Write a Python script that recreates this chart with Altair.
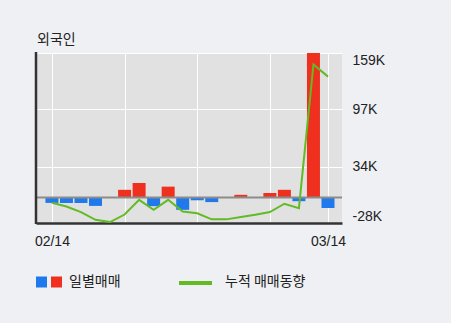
import altair as alt
import pandas as pd

dates = ["02/14", "02/15", "02/16", "02/17", "02/20", "02/21", "02/22", "02/23", "02/24", "02/27",
         "02/28", "03/02", "03/03", "03/06", "03/07", "03/08", "03/09", "03/10", "03/13", "03/14"]
daily = [-5.9, -6.0, -6.0, -9.2, 0.0, 8.5, 16.0, -9.5, 12.0, -13.5,
         -3.0, -5.0, 0.0, 3.0, 0.0, 5.0, 8.5, -4.0, 162.0, -11.5]
cumulative = [-5.8, -9.9, -16.0, -24.5, -27.0, -18.7, -2.5, -13.5, -2.5, -15.4,
              -17.3, -24.0, -24.0, -21.5, -18.9, -16.0, -6.8, -11.7, 146.5, 133.0]
y_ticks = [-28, 34, 97, 159]
x_grid = [0, 5, 10, 15, 19]
x_label_idx = [0, 19]

W, H = 306, 170
df = pd.DataFrame({"i": list(range(len(dates))), "date": dates, "daily": daily, "cum": cumulative})
df["sign"] = ["pos" if v > 0 else "neg" for v in daily]

label_expr = " : ".join(
    [f"datum.value == {k} ? '{dates[k]}'" for k in x_label_idx]
) + " : ''"

xs = alt.Scale(domain=[-0.752, 19.62], nice=False, zero=False)
ys = alt.Scale(domain=[y_ticks[0], y_ticks[-1]], nice=False, zero=False)

base = alt.Chart(df)

bars = base.transform_filter("datum.daily != 0").mark_bar(size=13, clip=True).encode(
    x=alt.X("i:Q", scale=xs, axis=alt.Axis(
        values=x_grid, labelExpr=label_expr, title=None, grid=True, gridColor="#ffffff",
        gridWidth=1, ticks=False, domainColor="#333333", domainWidth=2.5, labelPadding=11,
        labelFont="Liberation Sans", labelFontSize=14, labelColor="#222222", labelAngle=0)),
    y=alt.Y("daily:Q", scale=ys, axis=alt.Axis(
        orient="right", values=y_ticks, labelExpr="datum.value + 'K'", title=None, grid=True,
        gridColor="#ffffff", gridWidth=1, ticks=False, domain=False, labelPadding=10,
        labelFlush=True, labelFont="Liberation Sans", labelFontSize=14, labelColor="#222222")),
    y2=alt.datum(0),
    color=alt.Color("sign:N", scale=alt.Scale(domain=["pos", "neg"], range=["#f0301e", "#2079ec"]), legend=None),
)

zero = alt.Chart(pd.DataFrame({"z": [0]})).mark_rule(color="#8c8c8c", strokeWidth=2).encode(
    y=alt.datum(0), x=alt.value(0), x2=alt.value(W)
)

line = base.mark_line(color="#62bb24", strokeWidth=2, clip=True).encode(
    x=alt.X("i:Q", title=None), y=alt.Y("cum:Q", title=None)
)

left_axis = alt.Chart(pd.DataFrame({"a": [0]})).mark_rule(color="#333333", strokeWidth=2.5).encode(
    x=alt.value(0), y=alt.value(-1), y2=alt.value(H + 1)
)

title = alt.Chart(pd.DataFrame({"t": ["외국인"]})).mark_text(
    align="left", baseline="middle", font="Noto Sans CJK KR", fontSize=14, color="#222222"
).encode(x=alt.value(1), y=alt.value(-13), text="t:N")

leg_blue = alt.Chart(pd.DataFrame({"a": [0]})).mark_square(
    size=121, opacity=1, filled=True, color="#2079ec"
).encode(x=alt.value(5.5), y=alt.value(229))

leg_red = alt.Chart(pd.DataFrame({"a": [0]})).mark_square(
    size=121, opacity=1, filled=True, color="#f0301e"
).encode(x=alt.value(20.5), y=alt.value(229))

leg_line = alt.Chart(pd.DataFrame({"a": [0]})).mark_rule(color="#62bb24", strokeWidth=4).encode(
    x=alt.value(143), x2=alt.value(176), y=alt.value(230)
)

leg_text1 = alt.Chart(pd.DataFrame({"t": ["일별매매"]})).mark_text(
    align="left", baseline="middle", font="Noto Sans CJK KR", fontSize=14, color="#222222"
).encode(x=alt.value(33), y=alt.value(229), text="t:N")

leg_text2 = alt.Chart(pd.DataFrame({"t": ["누적 매매동향"]})).mark_text(
    align="left", baseline="middle", font="Noto Sans CJK KR", fontSize=14, color="#222222"
).encode(x=alt.value(189), y=alt.value(229), text="t:N")

chart = alt.layer(bars, zero, line, left_axis, title, leg_blue, leg_red, leg_line,
                  leg_text1, leg_text2).properties(
    width=W, height=H,
    autosize=alt.AutoSizeParams(type="none"),
    padding={"left": 36, "top": 53, "right": 451 - 36 - W, "bottom": 323 - 53 - H},
    background="#eef0f3",
).configure_view(fill="#e1e1e1", stroke=None)

chart.save("out.html", embed_options={"renderer": "svg", "actions": False})
